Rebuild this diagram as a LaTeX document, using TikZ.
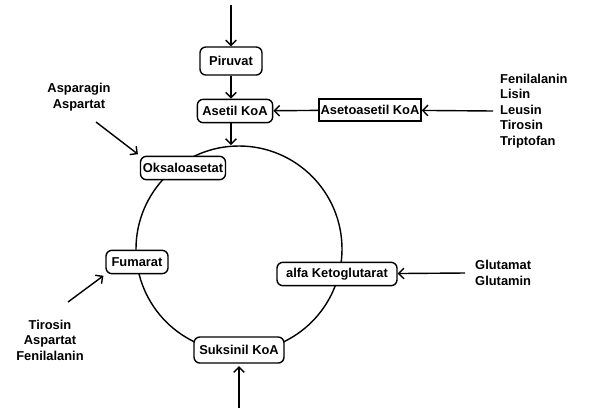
\documentclass[tikz,border=0pt]{standalone}
\usepackage{fontspec}
\setmainfont{Liberation Sans}
\usetikzlibrary{arrows.meta}

\tikzset{
    zat/.style={rectangle, rounded corners=5pt, draw, fill=white, line width=1.2pt,
        font=\bfseries\fontsize{11}{12}\selectfont, inner xsep=1pt, minimum height=0.7cm},
    kotak/.style={rectangle, draw, fill=white, line width=1.2pt,
        font=\bfseries\fontsize{11}{12}\selectfont, inner xsep=1pt, minimum height=0.66cm},
    daftar/.style={font=\bfseries\fontsize{11}{13.2}\selectfont, inner sep=0pt},
    panah/.style={-{Straight Barb[length=4.5pt,width=9pt]}, line width=1.2pt},
}

\begin{document}
\begin{tikzpicture}[x=0.03cm, y=-0.03cm]
    \useasboundingbox (0,0) rectangle (592,408);

    % siklus
    \draw [line width=1.2pt] (239,249) circle (3.09cm);

    \node (P) [zat, minimum width=1.86cm, minimum height=0.84cm] at (231,61) {Piruvat};
    \node (AK) [zat, minimum width=2.26cm] at (235,111) {Asetil KoA};
    \node (AAK) [kotak, minimum width=3.06cm] at (370,110) {Asetoasetil KoA};
    \node (O) [zat, minimum width=2.55cm] at (183,168) {Oksaloasetat};
    \node (F) [zat, minimum width=1.86cm] at (137,262) {Fumarat};
    \node (KG) [zat, minimum width=3.6cm] at (337,274) {alfa Ketoglutarat};
    \node (SK) [zat, minimum width=2.7cm, minimum height=0.78cm] at (239,350) {Suksinil KoA};

    % asam amino
    \node (L1) [daftar, anchor=west, align=left] at (500,111)
        {Fenilalanin\\Lisin\\Leusin\\Tirosin\\Triptofan};
    \node (L2) [daftar, anchor=west, align=left] at (475,273) {Glutamat\\Glutamin};
    \node (L3) [daftar, align=center] at (79,97) {Asparagin\\Aspartat};
    \node (L4) [daftar, align=center] at (50,340) {Tirosin\\Aspartat\\Fenilalanin};

    \coordinate (t1) at (231,5);
    \coordinate (t2) at (493,111);
    \coordinate (t3) at (465,273);
    \coordinate (t4) at (96,122);
    \coordinate (t5) at (68,302);
    \coordinate (t6) at (239,408);
    \coordinate (t7) at (231,145);

    \draw [panah] (t1) -- (P);
    \draw [panah] (P) -- (P |- AK.north);
    \draw [panah] (AK.south -| t7) -- (t7);
    \draw [panah] (AAK) -- (AK);
    \draw [panah] (t2) -- (AAK);
    \draw [panah] (t3) -- (KG);
    \draw [panah, shorten >=2pt] (t4) -- (O.north west);
    \draw [panah, shorten >=2pt] (t5) -- (F.south west);
    \draw [panah, shorten >=2pt] (t6) -- (SK);
\end{tikzpicture}
\end{document}
